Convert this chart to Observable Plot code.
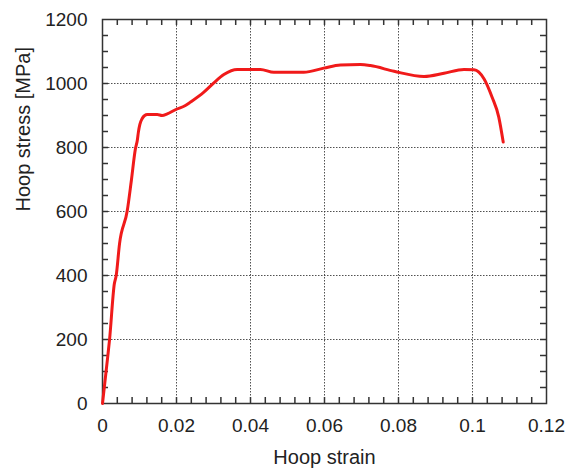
<!DOCTYPE html>
<html>
<head>
<meta charset="utf-8">
<script src="https://cdn.jsdelivr.net/npm/d3@7"></script>
<script src="https://cdn.jsdelivr.net/npm/@observablehq/plot@0.6"></script>
<style>
  html, body { margin: 0; padding: 0; background: #fff; }
</style>
</head>
<body>
<div id="chart"></div>
<script>
const strain = [0, 0.0014, 0.0019, 0.0032, 0.0037, 0.0046, 0.0067, 0.0078, 0.0089, 0.0094, 0.0097, 0.0101, 0.0107, 0.0114, 0.0121, 0.0148, 0.0161, 0.0175, 0.0197, 0.0224, 0.0238, 0.0274, 0.0301, 0.0328, 0.0364, 0.0427, 0.0463, 0.0544, 0.0598, 0.0643, 0.0697, 0.0724, 0.0788, 0.0869, 0.0923, 0.0977, 0.1004, 0.1031, 0.1053, 0.1071, 0.1083];
const stress = [0, 145, 199, 374, 400, 499, 603, 697, 796, 822, 848, 872, 890, 900, 903, 903, 900, 905, 918, 931, 942, 973, 1002, 1028, 1044, 1044, 1035, 1035, 1048, 1058, 1059, 1056, 1038, 1022, 1032, 1044, 1043, 1015, 957, 895, 817];
const xTicks = [0, 0.02, 0.04, 0.06, 0.08, 0.1, 0.12];
const xTickLabels = ["0", "0.02", "0.04", "0.06", "0.08", "0.1", "0.12"];
const yTicks = [0, 200, 400, 600, 800, 1000, 1200];
const yTickLabels = ["0", "200", "400", "600", "800", "1000", "1200"];
const xMinor = [0.004, 0.008, 0.012, 0.016, 0.02, 0.024, 0.028, 0.032, 0.036, 0.04, 0.044, 0.048, 0.052, 0.056, 0.06, 0.064, 0.068, 0.072, 0.076, 0.08, 0.084, 0.088, 0.092, 0.096, 0.1, 0.104, 0.108, 0.112, 0.116];
const yMinor = [50, 100, 150, 200, 250, 300, 350, 400, 450, 500, 550, 600, 650, 700, 750, 800, 850, 900, 950, 1000, 1050, 1100, 1150];
const xLabel = "Hoop strain";
const yLabel = "Hoop stress [MPa]";

const data = strain.map((s, i) => ({strain: s, stress: stress[i]}));

const W = 578, H = 468, ML = 102, MR = 32, MT = 19, MB = 65;
const plotW = W - ML - MR, plotH = H - MT - MB;
const xDom = [0, 0.12], yDom = [0, 1200];
const tickLen = 6;
// tick length converted from pixels into data units
const tX = tickLen * (xDom[1] - xDom[0]) / plotW;
const tY = tickLen * (yDom[1] - yDom[0]) / plotH;
const tickColor = "#333";
const gridStyle = {stroke: "#333", strokeOpacity: 0.85, strokeDasharray: "1.5,1.5", strokeWidth: 1};

const xBottom = xMinor.map(x => ({x, y1: yDom[0], y2: yDom[0] + tY}));
const xTop = xMinor.map(x => ({x, y1: yDom[1] - tY, y2: yDom[1]}));
const yLeft = yMinor.map(y => ({y, x1: xDom[0], x2: xDom[0] + tX}));
const yRight = yMinor.map(y => ({y, x1: xDom[1] - tX, x2: xDom[1]}));

const chart = Plot.plot({
  width: W,
  height: H,
  marginLeft: ML,
  marginRight: MR,
  marginTop: MT,
  marginBottom: MB,
  style: {fontFamily: "'Liberation Sans', Arial, sans-serif", fontSize: "19px", background: "#fff", color: "#222"},
  x: {domain: xDom},
  y: {domain: yDom},
  marks: [
    Plot.gridX(xTicks.slice(1, -1), gridStyle),
    Plot.gridY(yTicks.slice(1, -1), gridStyle),
    Plot.ruleX(xBottom, {x: "x", y1: "y1", y2: "y2", stroke: tickColor, strokeWidth: 1.5}),
    Plot.ruleX(xTop, {x: "x", y1: "y1", y2: "y2", stroke: tickColor, strokeWidth: 1.5}),
    Plot.ruleY(yLeft, {y: "y", x1: "x1", x2: "x2", stroke: tickColor, strokeWidth: 1.5}),
    Plot.ruleY(yRight, {y: "y", x1: "x1", x2: "x2", stroke: tickColor, strokeWidth: 1.5}),
    Plot.axisX(xTicks, {anchor: "bottom", tickSize: 0, tickPadding: 15, tickFormat: (d, i) => xTickLabels[i], label: null, fill: "#222"}),
    Plot.axisY(yTicks, {anchor: "left", tickSize: 0, tickPadding: 15, tickFormat: (d, i) => yTickLabels[i], label: null, fill: "#222"}),
    Plot.frame({stroke: tickColor, strokeWidth: 1.5}),
    Plot.line(data, {x: "strain", y: "stress", stroke: "#f01a1a", strokeWidth: 3, curve: "monotone-x"}),
    Plot.text([xLabel], {frameAnchor: "bottom", dy: 54, lineAnchor: "middle", fontSize: 20, fill: "#222"}),
    Plot.text([yLabel], {frameAnchor: "left", dx: -79, rotate: -90, lineAnchor: "middle", fontSize: 20, fill: "#222"})
  ]
});
document.getElementById("chart").appendChild(chart);
</script>
</body>
</html>
